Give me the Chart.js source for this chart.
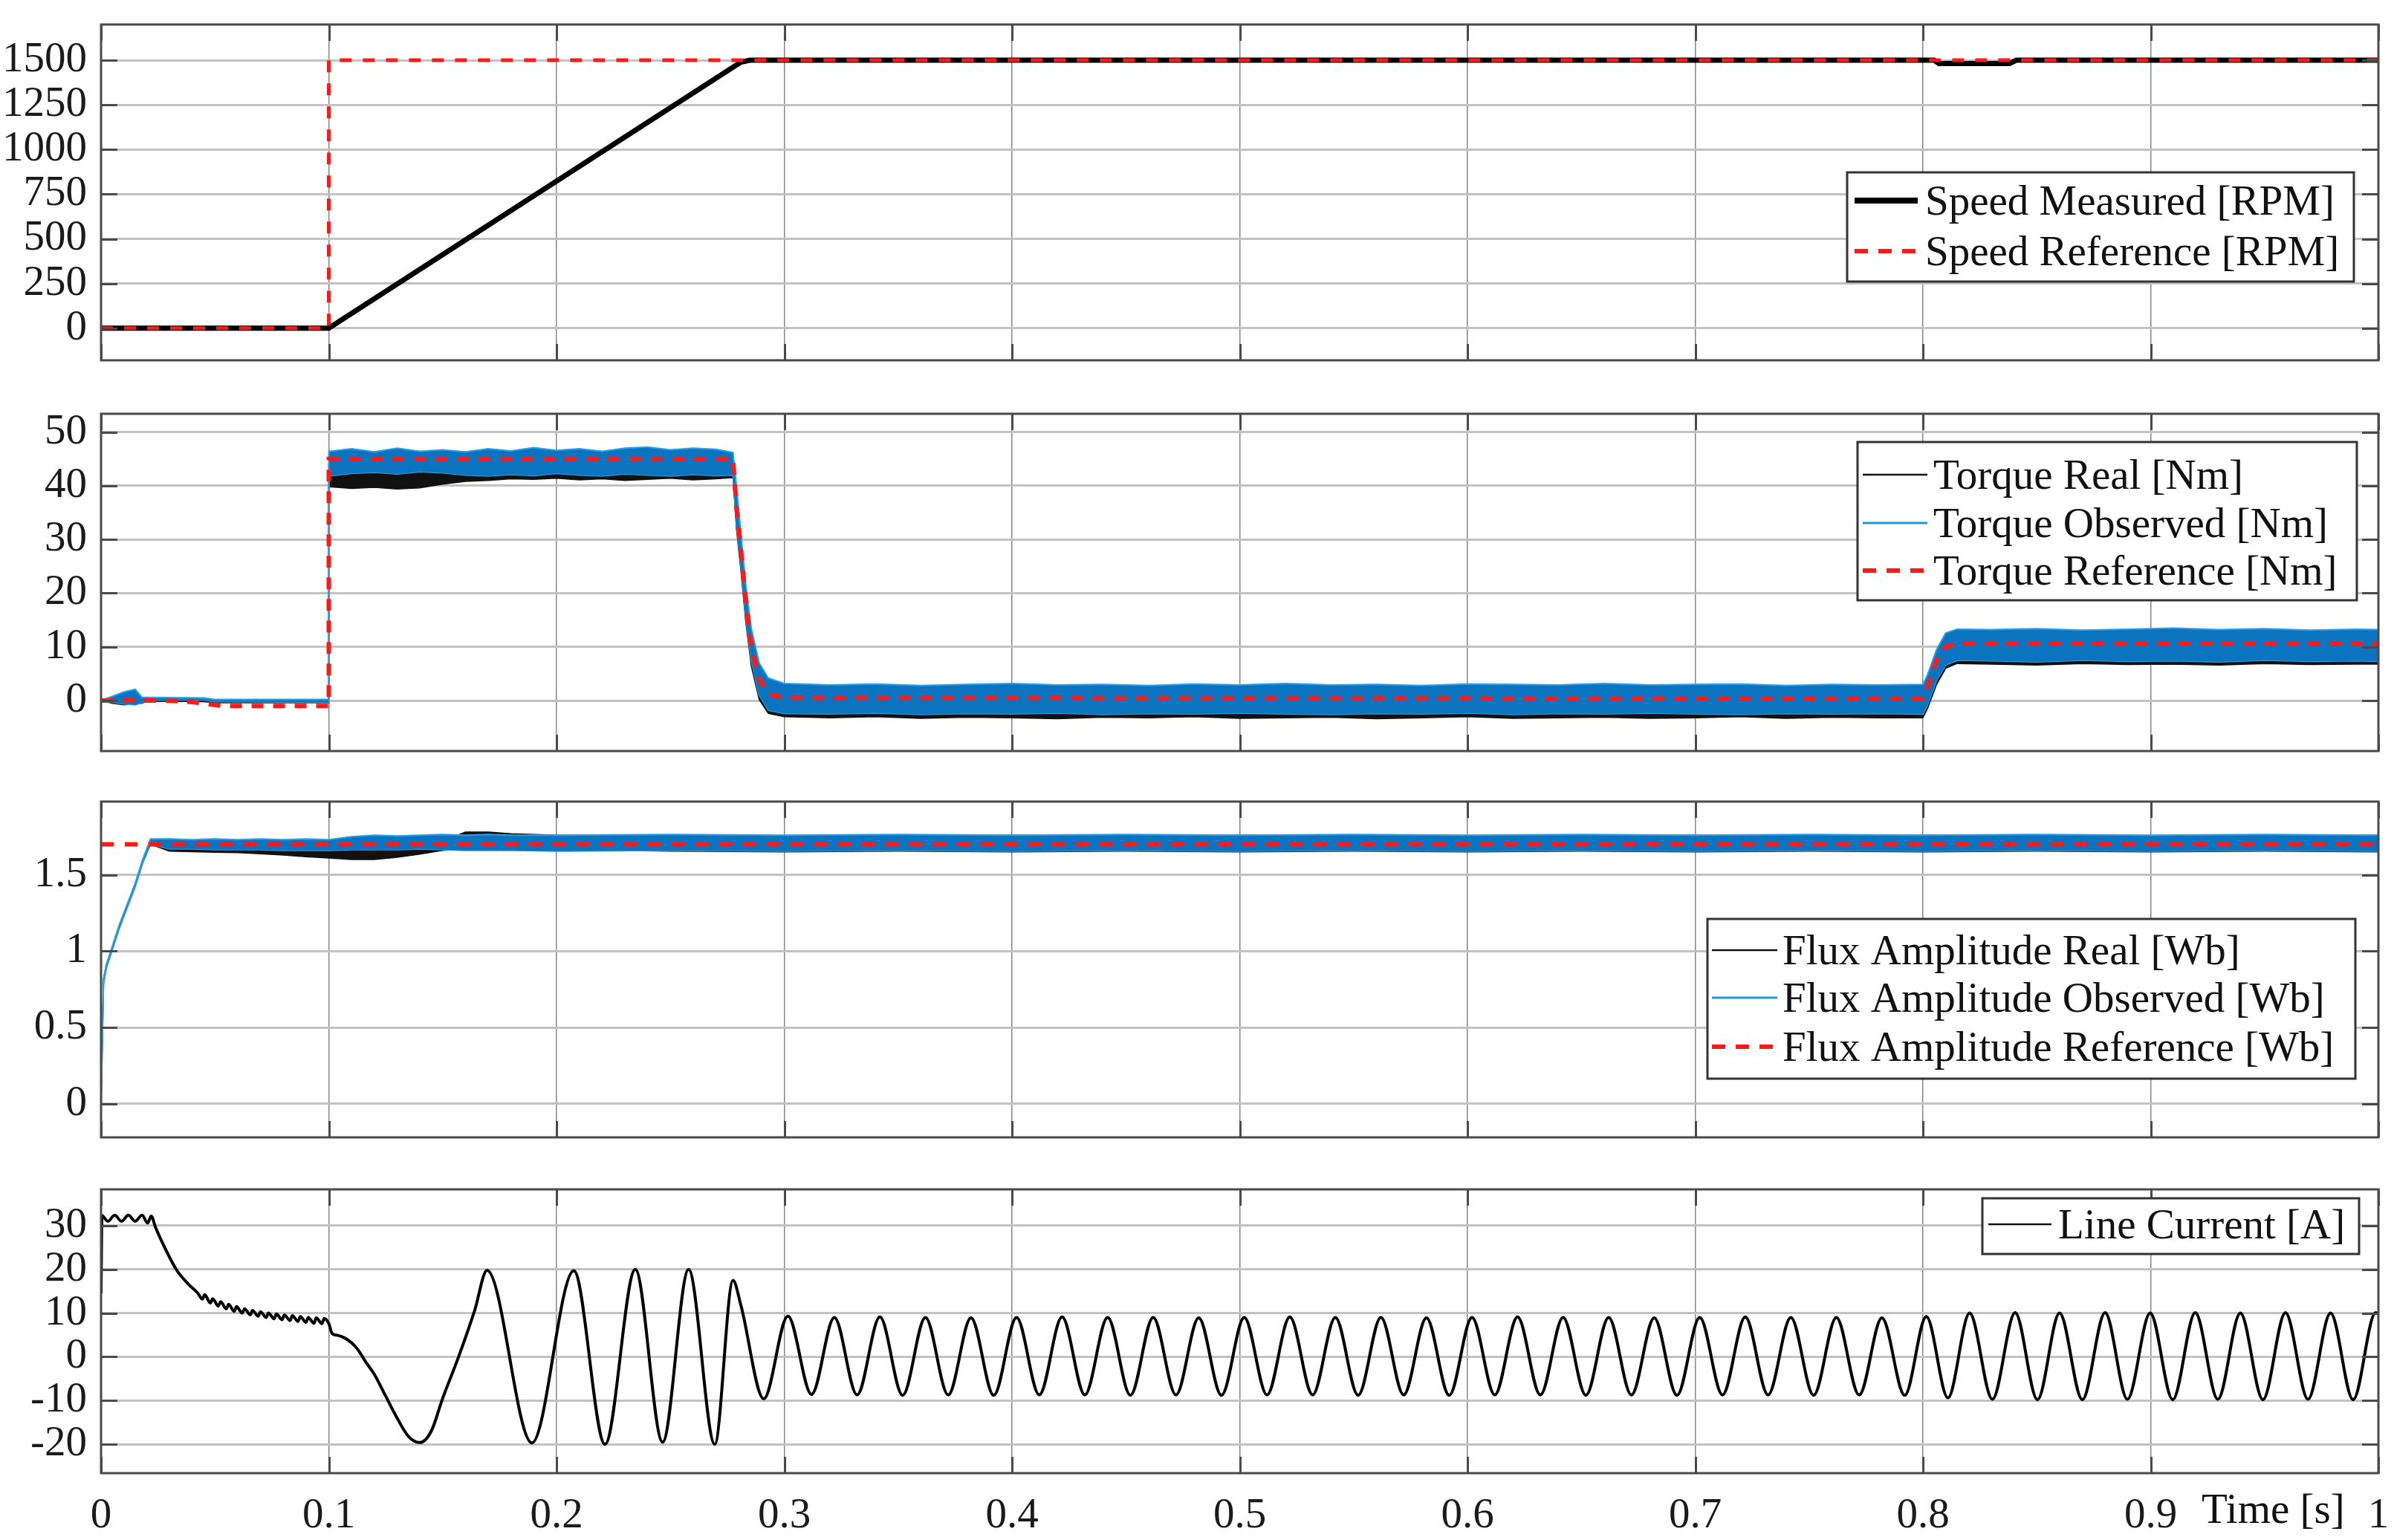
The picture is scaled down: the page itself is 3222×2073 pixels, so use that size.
<!DOCTYPE html>
<html><head><meta charset="utf-8">
<script src="https://cdn.jsdelivr.net/npm/chart.js@4.4.1/dist/chart.umd.min.js"></script>
<style>
html,body{margin:0;padding:0;background:#fff;}
body{width:3222px;height:2073px;position:relative;overflow:hidden;}
canvas{position:absolute;left:0;}
</style></head>
<body>
<canvas id="cSpeed"></canvas>
<canvas id="cTorque"></canvas>
<canvas id="cFlux"></canvas>
<canvas id="cCurrent"></canvas>
<script>
// ---------------- DATA ----------------
const xTicks = [0,0.1,0.2,0.3,0.4,0.5,0.6,0.7,0.8,0.9,1];
const xTickLabels = ['0','0.1','0.2','0.3','0.4','0.5','0.6','0.7','0.8','0.9','1'];
const xTitle = 'Time [s]';

const speedTicks = [0,250,500,750,1000,1250,1500];
const torqueTicks = [0,10,20,30,40,50];
const fluxTicks = [0,0.5,1,1.5];
const currentTicks = [-20,-10,0,10,20,30];

const speedLabels = ['Speed Measured [RPM]','Speed Reference [RPM]'];
const torqueLabels = ['Torque Real [Nm]','Torque Observed [Nm]','Torque Reference [Nm]'];
const fluxLabels = ['Flux Amplitude Real [Wb]','Flux Amplitude Observed [Wb]','Flux Amplitude Reference [Wb]'];
const currentLabels = ['Line Current [A]'];

// Speed
const speedMeasT = [0, 0.1, 0.281, 0.285, 0.805, 0.807, 0.838, 0.841, 1.0];
const speedMeasV = [0, 0, 1490, 1500, 1500, 1482, 1482, 1500, 1500];
const speedRefT = [0, 0.1, 0.1, 1.0];
const speedRefV = [0, 0, 1500, 1500];

// Torque (envelopes of the noisy traces, shared time base)
const torqueT = [0,0.005,0.01,0.015,0.018,0.02,0.045,0.05,0.0999,
  0.1,0.11,0.12,0.13,0.14,0.15,0.16,0.17,0.18,0.19,0.2,0.21,0.22,0.23,0.24,0.25,0.26,0.27,
  0.2775,0.279,0.281,0.283,0.2855,0.289,0.293,0.3,
  0.32,0.34,0.36,0.38,0.4,0.42,0.44,0.46,0.48,0.5,0.52,0.54,0.56,0.58,0.6,0.62,0.64,0.66,0.68,0.7,0.72,0.74,0.76,0.78,
  0.8,0.802,0.806,0.81,0.815,
  0.83,0.85,0.87,0.89,0.91,0.93,0.95,0.97,0.99,1.0];
const torqueObsHi = [0,0.8,1.6,2.1,0.6,0.6,0.5,0.2,0.2,
  46.4,46.9,46.3,47.0,46.4,46.7,46.3,46.9,46.5,47.1,46.6,46.9,46.4,47.0,47.2,46.7,47.0,46.8,
  46.2,40.0,31.0,22.0,13.5,7.0,4.2,3.2,
  2.9,3.1,2.8,3.0,3.2,2.9,3.0,2.8,3.1,2.9,3.2,2.9,3.0,2.8,3.1,3.0,2.9,3.2,2.9,3.0,3.1,2.8,3.0,2.9,
  3.0,4.8,9.5,12.6,13.3,
  13.2,13.4,13.1,13.3,13.5,13.2,13.4,13.1,13.3,13.2];
const torqueObsLo = [0,-0.3,-0.6,-0.8,-0.4,0.1,0.1,-0.2,-0.3,
  41.8,42.3,42.5,42.2,42.6,42.4,42.0,41.8,42.1,41.9,42.3,42.0,41.8,42.2,42.0,41.8,42.1,41.9,
  42.0,33.0,25.0,16.0,7.5,1.0,-1.8,-2.4,
  -2.5,-2.3,-2.6,-2.4,-2.5,-2.3,-2.6,-2.4,-2.5,-2.3,-2.5,-2.6,-2.4,-2.5,-2.3,-2.6,-2.4,-2.5,-2.3,-2.5,-2.6,-2.4,-2.5,-2.4,
  -2.5,-0.8,3.8,6.6,7.5,
  7.4,7.2,7.5,7.3,7.4,7.2,7.5,7.3,7.4,7.3];
const torqueRealHi = [0,0.6,1.2,1.8,0.4,0.4,0.3,0.1,0.1,
  44.0,43.8,44.0,43.9,44.2,44.4,44.6,44.8,45.0,44.9,45.1,44.9,45.0,45.2,44.9,45.0,45.1,44.8,
  44.5,38.5,30.0,21.0,12.5,6.2,3.5,2.6,
  2.5,2.6,2.4,2.7,2.5,2.4,2.6,2.5,2.7,2.4,2.5,2.6,2.4,2.5,2.7,2.5,2.4,2.6,2.5,2.4,2.6,2.5,2.7,2.5,
  2.5,4.2,9.0,12.0,12.6,
  12.6,12.8,12.5,12.7,12.6,12.8,12.5,12.7,12.6,12.5];
const torqueRealLo = [0,-0.5,-0.8,-0.6,-0.5,-0.1,-0.2,-0.4,-0.4,
  39.8,39.5,39.7,39.4,39.6,40.3,40.8,41.0,41.3,41.2,41.4,41.1,41.3,41.0,41.2,41.4,41.1,41.3,
  41.5,32.0,24.0,15.0,6.5,0.2,-2.4,-3.0,
  -3.2,-3.0,-3.3,-3.1,-3.2,-3.4,-3.1,-3.2,-3.0,-3.3,-3.2,-3.1,-3.4,-3.2,-3.0,-3.3,-3.2,-3.1,-3.3,-3.2,-3.0,-3.3,-3.1,-3.2,
  -3.2,-1.5,3.0,6.0,6.9,
  6.8,6.6,6.9,6.7,6.8,6.6,6.9,6.7,6.8,6.8];
const torqueRefT = [0,0.023,0.035,0.043,0.053,0.1,0.1,0.2775,0.279,0.281,0.283,0.2855,0.289,0.293,0.3,0.8,0.802,0.806,0.81,0.815,1.0];
const torqueRefV = [0,0,-0.1,-0.4,-1.0,-1.0,45,45,36,28,19,10,4,1.2,0.5,0.4,2.5,7.5,10.0,10.6,10.6];

// Flux
const fluxT = [0,0.0005,0.0011,0.0023,0.008,0.0149,0.0183,0.0217,
  0.03,0.04,0.05,0.06,0.07,0.08,0.09,0.1,
  0.11,0.12,0.13,0.14,0.15,0.16,0.17,0.18,
  0.2,0.25,0.3,0.35,0.4,0.45,0.5,0.55,0.6,0.65,0.7,0.75,0.8,0.85,0.9,0.95,1.0];
const fluxObsHi = [0,0.39,0.82,0.91,1.17,1.44,1.60,1.735,
  1.735,1.73,1.735,1.73,1.735,1.73,1.735,1.73,
  1.75,1.76,1.755,1.76,1.765,1.76,1.765,1.76,
  1.76,1.765,1.76,1.765,1.76,1.765,1.76,1.765,1.76,1.765,1.76,1.765,1.76,1.765,1.76,1.765,1.76];
const fluxObsLo = [0,0.37,0.79,0.89,1.15,1.42,1.58,1.70,
  1.67,1.67,1.665,1.665,1.665,1.66,1.66,1.66,
  1.665,1.665,1.665,1.67,1.665,1.66,1.66,1.66,
  1.655,1.66,1.655,1.66,1.655,1.66,1.655,1.66,1.655,1.66,1.655,1.66,1.655,1.66,1.655,1.66,1.655];
const fluxRealHi = [0,0.39,0.82,0.91,1.17,1.44,1.60,1.725,
  1.72,1.72,1.72,1.715,1.71,1.705,1.70,1.70,
  1.70,1.70,1.70,1.71,1.72,1.78,1.78,1.77,
  1.76,1.76,1.755,1.76,1.76,1.755,1.76,1.76,1.755,1.76,1.76,1.755,1.76,1.76,1.755,1.76,1.76];
const fluxRealLo = [0,0.37,0.79,0.89,1.15,1.42,1.58,1.70,
  1.655,1.652,1.648,1.645,1.638,1.63,1.618,1.61,
  1.60,1.60,1.615,1.635,1.66,1.67,1.67,1.67,
  1.665,1.655,1.65,1.655,1.65,1.655,1.65,1.655,1.65,1.655,1.65,1.655,1.65,1.655,1.65,1.655,1.65];
const fluxRefT = [0, 1.0];
const fluxRefV = [1.7, 1.7];

// Line current
const currentT = [0,0.0004,0.003,0.006,0.009,0.012,0.015,0.018,0.0205,0.022,0.024,0.0287,0.033,0.038,0.0424,
  0.0445,0.0455,0.048,0.049,0.0515,0.0525,0.055,0.056,0.0585,0.0595,0.062,0.063,0.0655,0.0665,0.069,0.070,
  0.0725,0.0735,0.076,0.077,0.0795,0.0805,0.083,0.084,0.0865,0.0875,0.090,0.091,0.0935,0.0945,0.097,0.098,0.1,
  0.1015,0.104,0.107,0.110,0.113,0.116,0.120,0.125,0.130,0.135,0.140,0.145,0.150,0.157,0.164,0.1695,
  0.1892,0.2076,0.2213,0.2346,0.2466,0.2580,0.2695,0.2775,0.2810,0.2910,0.3016,
  0.312,0.322,0.332,0.342,0.352,0.362,0.372,0.382,0.392,0.402,0.412,0.422,0.432,0.442,0.452,0.462,0.472,0.482,0.492,0.502,
  0.512,0.522,0.532,0.542,0.552,0.562,0.572,0.582,0.592,0.602,0.612,0.622,0.632,0.642,0.652,0.662,0.672,0.682,0.692,0.702,
  0.712,0.722,0.732,0.742,0.752,0.762,0.772,0.782,0.792,0.8015,
  0.811,0.8205,0.8305,0.8405,0.8503,0.8600,0.8700,0.8800,0.8898,0.8998,0.9097,0.9196,0.9295,0.9394,0.9493,0.9592,0.9691,0.9790,0.9889,0.9988,1.0];
const currentV = [14.5,32.3,31.0,32.4,31.0,32.4,31.0,32.4,30.6,32.2,29.5,24.2,20.0,16.8,14.6,
  13.2,14.2,12.3,13.3,11.6,12.6,11.0,12.0,10.4,11.5,10.0,11.0,9.6,10.6,9.3,10.3,
  9.0,10.0,8.7,9.8,8.5,9.6,8.3,9.4,8.1,9.2,7.9,9.0,7.7,8.9,7.6,8.8,7.6,
  5.3,4.9,4.3,3.2,1.5,-1.0,-4.0,-9.0,-14.0,-18.2,-19.6,-17.0,-9.5,0.0,10.5,19.8,
  -19.7,19.7,-20.0,20.0,-19.5,20.0,-20.0,17.5,11.7,-9.6,9.3,
  -8.6,9.0,-8.7,9.1,-8.8,9.0,-8.7,8.9,-8.8,9.0,-8.7,9.1,-8.7,9.0,-8.8,9.0,-8.7,8.9,-8.8,9.0,
  -8.7,9.1,-8.7,9.0,-8.8,9.0,-8.7,8.9,-8.8,9.0,-8.7,9.1,-8.7,9.0,-8.8,9.0,-8.7,8.9,-8.8,9.0,
  -8.7,9.1,-8.7,9.0,-8.8,9.0,-8.7,8.9,-8.8,9.2,
  -9.4,10.0,-9.7,10.1,-9.8,10.0,-9.8,10.1,-9.7,10.0,-9.8,10.1,-9.7,10.0,-9.8,10.1,-9.7,10.0,-9.8,10.1,9.8];

// ---------------- HELPERS ----------------
const zip = (t, v) => t.map((x, i) => ({x: x, y: v[i]}));
const FONT = "'Liberation Serif','Times New Roman',serif";
const BLUE_FILL = '#0b74c1';
const BLUE_EDGE = '#2f9fe3';
const BLUE_LEG = '#1f98dc';

const axesBox = {
  id: 'axesBox',
  afterDraw(chart) {
    const {ctx, chartArea: a, scales} = chart;
    const L = 22;
    ctx.save();
    ctx.strokeStyle = '#4a4a4a';
    ctx.lineWidth = 3;
    ctx.setLineDash([]);
    ctx.beginPath();
    scales.y.ticks.forEach(t => {
      const y = Math.round(scales.y.getPixelForValue(t.value)) + 0.5;
      ctx.moveTo(a.left, y); ctx.lineTo(a.left + L, y);
      ctx.moveTo(a.right, y); ctx.lineTo(a.right - L, y);
    });
    scales.x.ticks.forEach(t => {
      const x = Math.round(scales.x.getPixelForValue(t.value)) + 0.5;
      ctx.moveTo(x, a.bottom); ctx.lineTo(x, a.bottom - L);
      ctx.moveTo(x, a.top); ctx.lineTo(x, a.top + L);
    });
    ctx.stroke();
    ctx.strokeRect(a.left, a.top, a.right - a.left, a.bottom - a.top);
    ctx.restore();
  }
};

const mLegend = {
  id: 'mLegend',
  afterDraw(chart, args, opts) {
    if (!opts || !opts.entries) return;
    const ctx = chart.ctx;
    const [bx, by, bw, bh] = opts.box;
    ctx.save();
    ctx.fillStyle = '#fff';
    ctx.fillRect(bx, by, bw, bh);
    ctx.strokeStyle = '#333';
    ctx.lineWidth = 3;
    ctx.setLineDash([]);
    ctx.strokeRect(bx, by, bw, bh);
    ctx.font = '57px ' + FONT;
    ctx.textBaseline = 'middle';
    ctx.textAlign = 'left';
    opts.entries.forEach((di, i) => {
      const ds = chart.data.datasets[di];
      const st = ds.legendStyle || {color: ds.borderColor, width: ds.borderWidth, dash: ds.borderDash || []};
      const y = opts.rows[i];
      ctx.strokeStyle = st.color;
      ctx.lineWidth = st.width;
      ctx.setLineDash(st.dash || []);
      ctx.beginPath();
      ctx.moveTo(opts.sample[0], y - 4);
      ctx.lineTo(opts.sample[1], y - 4);
      ctx.stroke();
      ctx.setLineDash([]);
      ctx.fillStyle = '#111';
      ctx.fillText(ds.label, opts.textX, y);
    });
    ctx.restore();
  }
};

const xTitlePlugin = {
  id: 'xTitleText',
  afterDraw(chart, args, opts) {
    if (!opts || !opts.text) return;
    const ctx = chart.ctx;
    ctx.save();
    ctx.font = '57px ' + FONT;
    ctx.fillStyle = '#111';
    ctx.textBaseline = 'middle';
    ctx.textAlign = 'left';
    ctx.fillText(opts.text, opts.x, opts.y);
    ctx.restore();
  }
};

Chart.register(axesBox, mLegend, xTitlePlugin);

function makeChart(id, top, height, padBottom, xHeight, showX, yMin, yMax, yTicks, datasets, legendOpts, titleOpts) {
  const cv = document.getElementById(id);
  cv.width = 3222; cv.height = height;
  cv.style.top = top + 'px';
  cv.style.width = '3222px'; cv.style.height = height + 'px';
  return new Chart(cv, {
    type: 'line',
    data: {datasets: datasets},
    options: {
      responsive: false,
      animation: false,
      devicePixelRatio: 1,
      events: [],
      layout: {padding: {top: 30, bottom: padBottom, left: 0, right: 21}},
      elements: {point: {radius: 0}, line: {tension: 0}},
      plugins: {
        legend: {display: false},
        tooltip: {enabled: false},
        mLegend: legendOpts,
        xTitleText: titleOpts || {}
      },
      scales: {
        x: {
          type: 'linear', min: 0, max: 1,
          afterBuildTicks: s => { s.ticks = xTicks.map(v => ({value: v})); },
          afterFit: s => { s.height = xHeight; s.paddingLeft = 0; s.paddingRight = 0; },
          grid: {color: '#858585', lineWidth: 1.5, drawTicks: false},
          border: {display: false},
          ticks: {
            display: showX, autoSkip: false, maxRotation: 0, padding: 24,
            color: '#1a1a1a', font: {family: FONT, size: 57},
            callback: (v, i) => xTickLabels[xTicks.indexOf(v)] ?? ''
          }
        },
        y: {
          type: 'linear', min: yMin, max: yMax,
          afterBuildTicks: s => { s.ticks = yTicks.map(v => ({value: v})); },
          afterFit: s => { s.width = 136; s.paddingTop = 0; s.paddingBottom = 0; },
          grid: {color: '#c2c2c2', lineWidth: 3, drawTicks: false},
          border: {display: false},
          ticks: {
            padding: 19, color: '#1a1a1a', font: {family: FONT, size: 57},
            callback: v => String(v)
          }
        }
      }
    }
  });
}

// Speed panel
makeChart('cSpeed', 3, 512, 30, 0, false, -180, 1700, speedTicks, [
  {label: speedLabels[1], data: zip(speedRefT, speedRefV), borderColor: '#ff1a1a', borderWidth: 5, borderDash: [16, 15], fill: false,
   legendStyle: {color: '#ff1a1a', width: 6, dash: [18, 14]}},
  {label: speedLabels[0], data: zip(speedMeasT, speedMeasV), borderColor: '#000', borderWidth: 7, fill: false,
   legendStyle: {color: '#000', width: 8, dash: []}}
], {box: [2486, 229, 682, 147], rows: [271, 339], sample: [2496, 2581], textX: 2591, entries: [1, 0]});

// Torque panel
makeChart('cTorque', 527, 514, 30, 0, false, -9.4, 53.4, torqueTicks, [
  {label: torqueLabels[2], data: zip(torqueRefT, torqueRefV), borderColor: '#ff1a1a', borderWidth: 6, borderDash: [16, 13], fill: false,
   legendStyle: {color: '#ff1a1a', width: 6, dash: [18, 14]}},
  {label: torqueLabels[1], data: zip(torqueT, torqueObsHi), borderColor: BLUE_EDGE, borderWidth: 2, backgroundColor: BLUE_FILL, fill: '+1',
   legendStyle: {color: BLUE_LEG, width: 3, dash: []}},
  {label: 'obs-lo', data: zip(torqueT, torqueObsLo), borderColor: BLUE_EDGE, borderWidth: 2, fill: false},
  {label: torqueLabels[0], data: zip(torqueT, torqueRealHi), borderColor: '#111', borderWidth: 1.5, backgroundColor: '#111', fill: '+1',
   legendStyle: {color: '#111', width: 2.5, dash: []}},
  {label: 'real-lo', data: zip(torqueT, torqueRealLo), borderColor: '#111', borderWidth: 1.5, fill: false}
], {box: [2500, 68, 672, 213], rows: [116, 181, 245], sample: [2507, 2594], textX: 2602, entries: [3, 1, 0]});

// Flux panel
makeChart('cFlux', 1049, 512, 30, 0, false, -0.22, 1.98, fluxTicks, [
  {label: fluxLabels[2], data: zip(fluxRefT, fluxRefV), borderColor: '#ff1a1a', borderWidth: 6, borderDash: [17, 15], fill: false,
   legendStyle: {color: '#ff1a1a', width: 6, dash: [18, 14]}},
  {label: fluxLabels[1], data: zip(fluxT, fluxObsHi), borderColor: BLUE_EDGE, borderWidth: 2, backgroundColor: BLUE_FILL, fill: '+1',
   legendStyle: {color: BLUE_LEG, width: 3, dash: []}},
  {label: 'obs-lo', data: zip(fluxT, fluxObsLo), borderColor: BLUE_EDGE, borderWidth: 2, fill: false},
  {label: fluxLabels[0], data: zip(fluxT, fluxRealHi), borderColor: '#111', borderWidth: 1.5, backgroundColor: '#111', fill: '+1',
   legendStyle: {color: '#111', width: 2.5, dash: []}},
  {label: 'real-lo', data: zip(fluxT, fluxRealLo), borderColor: '#111', borderWidth: 1.5, fill: false}
], {box: [2298, 188, 872, 215], rows: [234, 298, 364], sample: [2304, 2392], textX: 2399, entries: [3, 1, 0]});

// Current panel
makeChart('cCurrent', 1571, 502, 0, 90, true, -26.6, 38.3, currentTicks, [
  {label: currentLabels[0], data: zip(currentT, currentV), borderColor: '#000', borderWidth: 4, fill: false,
   cubicInterpolationMode: 'monotone', legendStyle: {color: '#111', width: 2.5, dash: []}}
], {box: [2668, 42, 507, 75], rows: [81], sample: [2676, 2761], textX: 2770, entries: [0]},
   {text: xTitle, x: 2963, y: 464});
</script>
</body></html>
